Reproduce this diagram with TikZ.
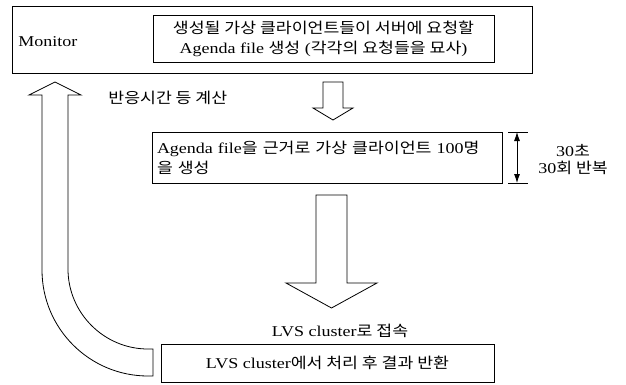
\documentclass[tikz,border=0pt]{standalone}
\usepackage{fontspec}
\setmainfont{Liberation Serif}[FakeStretch=1.2]
\newfontfamily\kr{Noto Sans CJK KR}[FakeStretch=1.15]
\usetikzlibrary{arrows.meta}

\begin{document}
\begin{tikzpicture}[x=1pt,y=-1pt,line width=0.8pt,>={Latex[length=9pt,width=6pt]},font=\fontsize{15}{20}\selectfont]
    \tikzstyle{box}=[draw, rectangle, inner sep=0pt, text=black]
    \tikzstyle{label}=[text=black, inner sep=0pt]
    \tikzstyle{blockarrow}=[draw, fill=white, line join=miter]

    \useasboundingbox (0,0) rectangle (626,385);

    \node[box, minimum width=520pt, minimum height=67pt] (monitor) at (272,39.5) {};
    \node[label, anchor=west] (montext) at (18,42) {Monitor};
    \node[box, minimum width=341pt, minimum height=47pt, align=center] (agenda) at (323.5,38.5)
      {{\kr 생성될 가상 클라이언트들이 서버에 요청할}\\Agenda file {\kr 생성} ({\kr 각각의 요청들을 묘사})};
    \node[box, minimum width=350pt, minimum height=51pt, text width=340pt, align=left] (clients) at (327,157.5)
      {Agenda file{\kr 을 근거로 가상 클라이언트} 100{\kr 명}\\{\kr 을 생성}};
    \node[box, minimum width=333pt, minimum height=38pt] (lvs) at (327.5,363)
      {LVS cluster{\kr 에서 처리 후 결과 반환}};

    \node[label] (connect) at (340,331) {LVS cluster{\kr 로 접속}};
    \node[label, anchor=west] (calc) at (108,98) {{\kr 반응시간 등 계산}};
    \node[label, align=center, font=\fontsize{15}{17}\selectfont] (repeat) at (573,160)
      {30{\kr 초}\\30{\kr 회 반복}};

    % repeat interval
    \coordinate (dimtop) at (517,132);
    \coordinate (dimbot) at (517,183);
    \draw (508,132) -- (528,132);
    \draw (508,183) -- (528,183);
    \draw[<->] (dimtop) -- (dimbot);

    % block arrows
    \draw[blockarrow] (323,82) -- (343,82) -- (343,108) -- (353,108) -- (333,120)
      -- (313,108) -- (323,108) -- cycle;
    \draw[blockarrow] (316,195) -- (347,195) -- (347,283) -- (377,283) -- (331.5,308)
      -- (286,283) -- (316,283) -- cycle;
    \draw[blockarrow] (153,349) -- (148,349) .. controls (104,349) and (68,313) .. (68,269)
      -- (68,95) -- (81,95) -- (55,82) -- (29,95) -- (42,95) -- (42,270)
      .. controls (42,328.5) and (89.5,376) .. (148,376) -- (153,376) -- cycle;
\end{tikzpicture}
\end{document}
